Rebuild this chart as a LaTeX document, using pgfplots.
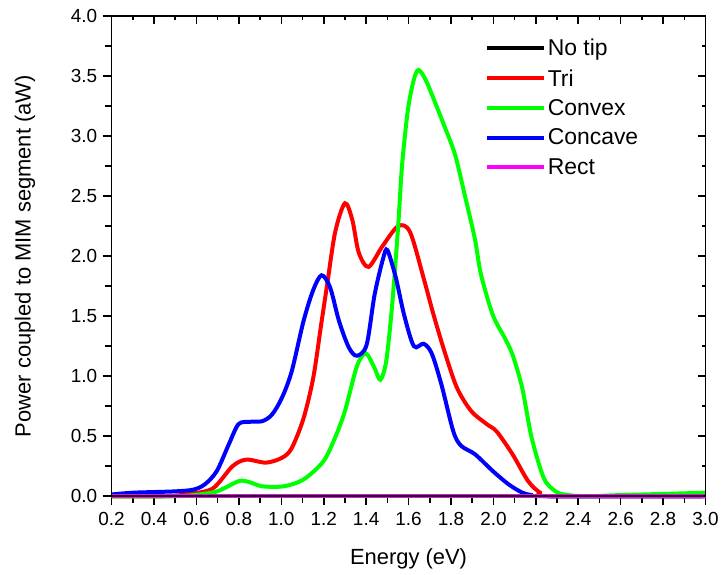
\documentclass[border=0pt]{standalone}
\usepackage{fontspec}
\setmainfont{Liberation Sans}
\usepackage{pgfplots}
\pgfplotsset{compat=1.18}
\definecolor{cred}{RGB}{255,0,0}
\definecolor{cgreen}{RGB}{0,255,0}
\definecolor{cblue}{RGB}{0,0,255}
\definecolor{cmag}{RGB}{255,0,255}
\begin{document}
\begin{tikzpicture}
\begin{axis}[width=596pt, height=482pt, scale only axis,
  xmin=0.2, xmax=3.0, ymin=0, ymax=4.0,
  xtick={0.2,0.4,0.6,0.8,1.0,1.2,1.4,1.6,1.8,2.0,2.2,2.4,2.6,2.8,3.0},
  ytick={0,0.5,1.0,1.5,2.0,2.5,3.0,3.5,4.0},
  minor x tick num=1, minor y tick num=1,
  xtick pos=bottom, ytick pos=left, tick align=outside,
  major tick length=9pt, minor tick length=7pt,
  tick style={black, line width=1.6pt},
  axis line style={line width=1.6pt},
  clip=false,
  xticklabel style={font=\fontsize{19}{21}\selectfont, yshift=-4pt, /pgf/number format/fixed, /pgf/number format/fixed zerofill, /pgf/number format/precision=1, /pgf/number format/assume math mode=true},
  yticklabel style={font=\fontsize{19}{21}\selectfont, xshift=-2pt, /pgf/number format/fixed, /pgf/number format/fixed zerofill, /pgf/number format/precision=1, /pgf/number format/assume math mode=true},
  xlabel={Energy (eV)},
  ylabel={Power coupled to MIM segment (aW)},
  label style={font=\fontsize{22}{24}\selectfont},
  xlabel style={at={(rel axis cs:0.5,-0.13)}, anchor=center},
  ylabel style={at={(rel axis cs:-0.146,0.5)}, anchor=center},
  legend style={draw=none, fill=none, at={(rel axis cs:0.625,0.96)}, anchor=north west,
    font=\fontsize{23}{27}\selectfont, row sep=8pt, inner sep=2pt},
  legend cell align=left,
  legend image code/.code={\draw[#1, line width=4pt] (0pt,0pt) -- (57pt,0pt);},
]
\coordinate (ll) at (rel axis cs:0,0);
% No tip
\addplot[black, line width=4pt] coordinates {(0.2,0) (1.0,0) (2.0,0) (3.0,0)};
\addlegendentry{No tip}
% Tri
\addplot[cred, line width=4pt, smooth, tension=0.5] coordinates {
(0.2,0.0) (0.45,0.0) (0.566,0.02) (0.677,0.065) (0.77,0.25) (0.835,0.305) (0.928,0.28)
(1.003,0.32) (1.049,0.40) (1.105,0.65) (1.151,0.99) (1.188,1.43) (1.216,1.76)
(1.254,2.2) (1.30,2.44) (1.335,2.3) (1.365,2.03) (1.411,1.91) (1.476,2.08) (1.551,2.25)
(1.607,2.2) (1.672,1.81) (1.718,1.51) (1.774,1.18) (1.829,0.90) (1.895,0.71)
(1.969,0.60) (2.015,0.54) (2.09,0.35) (2.164,0.125) (2.22,0.03) (2.27,0.0) (3.0,0.0)};
\addlegendentry{Tri}
% Convex
\addplot[cgreen, line width=4pt, smooth, tension=0.5] coordinates {
(0.2,0.0) (0.5,0.0) (0.585,0.01) (0.696,0.04) (0.798,0.125) (0.845,0.12) (0.91,0.083)
(1.012,0.083) (1.105,0.14) (1.198,0.29) (1.254,0.49) (1.30,0.71) (1.356,1.08)
(1.398,1.19) (1.439,1.07) (1.467,0.97) (1.495,1.13) (1.523,1.60) (1.551,2.25)
(1.569,2.75) (1.597,3.22) (1.625,3.47) (1.647,3.55) (1.68,3.47) (1.718,3.31)
(1.774,3.06) (1.82,2.84) (1.866,2.5) (1.913,2.14) (1.941,1.85) (1.997,1.51)
(2.053,1.32) (2.09,1.18) (2.136,0.90) (2.18,0.49) (2.238,0.15) (2.294,0.04)
(2.35,0.01) (2.45,0.0) (2.6,0.01) (2.815,0.02) (3.0,0.03)};
\addlegendentry{Convex}
% Concave
\addplot[cblue, line width=4pt, smooth, tension=0.5] coordinates {
(0.2,0.015) (0.306,0.03) (0.49,0.04) (0.585,0.055) (0.64,0.10) (0.696,0.21) (0.752,0.43)
(0.798,0.60) (0.85,0.62) (0.91,0.625) (0.956,0.68) (1.003,0.82) (1.049,1.04)
(1.105,1.46) (1.151,1.72) (1.19,1.84) (1.23,1.74) (1.272,1.46) (1.318,1.24)
(1.356,1.17) (1.402,1.26) (1.44,1.68) (1.48,1.98) (1.50,2.05) (1.54,1.82)
(1.579,1.51) (1.625,1.25) (1.671,1.27) (1.709,1.19) (1.755,0.93) (1.811,0.54)
(1.848,0.42) (1.913,0.35) (1.997,0.21) (2.071,0.10) (2.136,0.03) (2.18,0.01) (2.25,0.0) (3.0,0.0)};
\addlegendentry{Concave}
% Rect
\addplot[cmag, line width=4pt] coordinates {(0.2,0) (1.0,0) (2.0,0) (3.0,0)};
\addlegendentry{Rect}
\end{axis}
\begin{axis}[width=596pt, height=482pt, scale only axis,
  xmin=0.2, xmax=3.0, ymin=0, ymax=4.0,
  xtick={0.2,0.4,0.6,0.8,1.0,1.2,1.4,1.6,1.8,2.0,2.2,2.4,2.6,2.8,3.0},
  ytick={0,0.5,1.0,1.5,2.0,2.5,3.0,3.5,4.0},
  minor x tick num=1, minor y tick num=1,
  xtick pos=top, ytick pos=right, tick align=inside,
  major tick length=8pt, minor tick length=4pt,
  tick style={black, line width=1.6pt},
  axis line style={line width=1.6pt},
  xticklabels={}, yticklabels={},
]
\end{axis}
\path (ll) ++(-112pt,-79pt) rectangle ++(722pt,577pt);
\end{tikzpicture}
\end{document}
